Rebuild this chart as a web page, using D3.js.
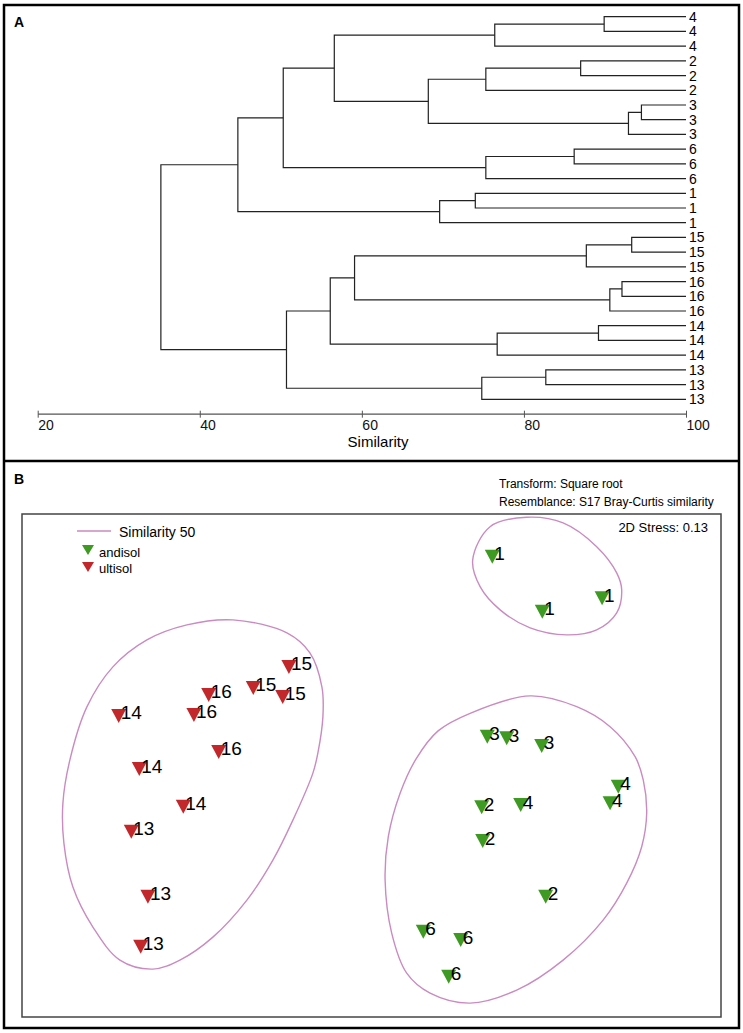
<!DOCTYPE html>
<html>
<head>
<meta charset="utf-8">
<script src="https://cdn.jsdelivr.net/npm/d3@7"></script>
<style>
  html, body { margin: 0; padding: 0; background: #fff; }
  svg { display: block; font-family: "Liberation Sans", Arial, sans-serif; }
</style>
</head>
<body>
<script>
// dendrogram leaves, top to bottom
const leafLabels = ['4','4','4','2','2','2','3','3','3','6','6','6','1','1','1',
  '15','15','15','16','16','16','14','14','14','13','13','13']

// merges: [child a, child b, similarity]; children < 27 are leaves, >= 27 are earlier merges
const merges = [
  [0, 1, 89.9], [27, 2, 76.4],
  [3, 4, 87.0], [29, 5, 75.3],
  [6, 7, 94.5], [31, 8, 92.9],
  [30, 32, 68.2], [28, 33, 56.6],
  [9, 10, 86.2], [35, 11, 75.3],
  [34, 36, 50.3],
  [12, 13, 74.0], [38, 14, 69.6],
  [37, 39, 44.7],
  [15, 16, 93.3], [41, 17, 87.7],
  [18, 19, 92.1], [43, 20, 90.6],
  [42, 44, 59.1],
  [21, 22, 89.2], [46, 23, 76.7],
  [45, 47, 56.1],
  [24, 25, 82.7], [49, 26, 74.8],
  [48, 50, 50.7],
  [40, 51, 35.2]
]

const similarityTicks = [20, 40, 60, 80, 100]

// nMDS ordination
const andisolSites = ['1','1','1','3','3','3','4','4','4','2','2','2','6','6','6']
const andisolMds = [
  [0.604, 1.044], [0.854, 0.769], [1.153, 0.836],
  [0.579, 0.144], [0.676, 0.136], [0.851, 0.098],
  [1.234, -0.106], [1.193, -0.189], [0.746, -0.198],
  [0.551, -0.209], [0.556, -0.378], [0.871, -0.656],
  [0.259, -0.831], [0.446, -0.873], [0.386, -1.056]
]
const ultisolSites = ['15','15','15','16','16','16','14','14','14','13','13','13']
const ultisolMds = [
  [-0.413, 0.493], [-0.591, 0.388], [-0.444, 0.343],
  [-0.814, 0.353], [-0.888, 0.253], [-0.764, 0.068],
  [-1.264, 0.248], [-1.161, -0.018], [-0.941, -0.206],
  [-1.201, -0.331], [-1.118, -0.656], [-1.154, -0.906]
]

// similarity 50 contours
const contourSite1 = [
  [0.776, 1.241], [0.958, 1.213], [1.126, 1.094], [1.226, 0.963], [1.251, 0.878],
  [1.226, 0.763], [1.126, 0.678], [0.976, 0.653], [0.793, 0.688], [0.643, 0.778],
  [0.543, 0.894], [0.506, 1.028], [0.593, 1.194]
]
const contourAndisol = [
  [0.793, 0.348], [1.026, 0.294], [1.193, 0.194], [1.318, 0.044], [1.359, -0.073],
  [1.376, -0.238], [1.351, -0.406], [1.276, -0.588], [1.158, -0.773], [0.958, -0.973],
  [0.726, -1.123], [0.493, -1.188], [0.293, -1.138], [0.176, -1.038], [0.101, -0.838],
  [0.068, -0.573], [0.084, -0.356], [0.143, -0.139], [0.223, 0.033], [0.333, 0.173],
  [0.493, 0.261]
]
const contourUltisol = [
  [-0.693, 0.728], [-0.423, 0.663], [-0.308, 0.563], [-0.248, 0.393], [-0.243, 0.243],
  [-0.268, 0.063], [-0.293, -0.038], [-0.393, -0.273], [-0.493, -0.473], [-0.623, -0.673],
  [-0.793, -0.858], [-0.958, -0.973], [-1.093, -1.018], [-1.258, -0.973], [-1.393, -0.808],
  [-1.493, -0.608], [-1.538, -0.388], [-1.543, -0.188], [-1.508, 0.028], [-1.423, 0.293],
  [-1.293, 0.493], [-1.123, 0.628], [-0.923, 0.703]
]

const W = 743
const H = 1033
const GREEN = '#3e9a22'
const RED = '#c2282b'
const PINK = '#c98bc0'

const svg = d3.select('body').append('svg')
  .attr('width', W)
  .attr('height', H)

// ---------- panel A: dendrogram ----------
const x = d3.scaleLinear().domain([20, 100]).range([37.7, 686])
const y = d3.scalePoint().domain(d3.range(leafLabels.length)).range([16.7, 399.3])

const nodes = leafLabels.map((d, i) => ({ x: x(100), y: y(i) }))
const dendro = svg.append('g')
  .attr('fill', 'none')
  .attr('stroke', '#222')
  .attr('stroke-width', 1.2)

merges.forEach(([a, b, s]) => {
  const na = nodes[a]
  const nb = nodes[b]
  const node = { x: x(s), y: (na.y + nb.y) / 2 }
  dendro.append('path')
    .attr('d', `M${na.x},${na.y}H${node.x}V${nb.y}H${nb.x}`)
  nodes.push(node)
})

svg.append('g').selectAll('text')
  .data(leafLabels)
  .enter()
  .append('text')
  .attr('x', x(100) + 3)
  .attr('y', (d, i) => y(i) + 5)
  .attr('font-size', 14)
  .text(d => d)

const xAxis = d3.axisBottom(x)
  .tickValues(similarityTicks)
  .tickSize(5)
  .tickSizeOuter(0)

const axisG = svg.append('g')
  .attr('transform', 'translate(0, 413.7)')
  .call(xAxis)
axisG.select('.domain').attr('stroke', '#555').attr('stroke-width', 1.2)
axisG.selectAll('.tick line').attr('stroke', '#555').attr('y1', -3).attr('y2', 4)
axisG.selectAll('.tick text')
  .attr('text-anchor', 'start')
  .attr('font-family', 'Liberation Sans, Arial, sans-serif')
  .attr('font-size', 14)
  .attr('fill', '#111')
  .attr('y', 6)

svg.append('text')
  .attr('x', 378)
  .attr('y', 447)
  .attr('text-anchor', 'middle')
  .attr('font-size', 15)
  .text('Similarity')

// ---------- panel B: nMDS ----------
const box = { x0: 22, x1: 721, y0: 514, y1: 1017 }
const mx = d3.scaleLinear().domain([-1.7475, 1.7475]).range([box.x0, box.x1])
const my = d3.scaleLinear().domain([-1.2575, 1.2575]).range([box.y1, box.y0])

svg.append('rect')
  .attr('x', box.x0)
  .attr('y', box.y0)
  .attr('width', box.x1 - box.x0)
  .attr('height', box.y1 - box.y0)
  .attr('fill', 'none')
  .attr('stroke', '#444')
  .attr('stroke-width', 1.5)

const contourLine = d3.line()
  .x(d => mx(d[0]))
  .y(d => my(d[1]))
  .curve(d3.curveCatmullRomClosed.alpha(0.5))

svg.append('g').selectAll('path')
  .data([contourSite1, contourAndisol, contourUltisol])
  .enter()
  .append('path')
  .attr('d', contourLine)
  .attr('fill', 'none')
  .attr('stroke', PINK)
  .attr('stroke-width', 1.4)

const triangle = (w, h) => `M${-w / 2},${-h / 2}L${w / 2},${-h / 2}L0,${h / 2}Z`

const drawGroup = (sites, coords, colour) => {
  const g = svg.append('g')
  const pts = g.selectAll('g')
    .data(coords.map((c, i) => ({ site: sites[i], x: c[0], y: c[1] })))
    .enter()
    .append('g')
    .attr('transform', d => `translate(${mx(d.x)}, ${my(d.y)})`)
  pts.append('path')
    .attr('d', triangle(15, 14))
    .attr('fill', colour)
  pts.append('text')
    .attr('x', 2)
    .attr('y', 3.5)
    .attr('font-size', 19)
    .attr('fill', '#000')
    .text(d => d.site)
}
drawGroup(andisolSites, andisolMds, GREEN)
drawGroup(ultisolSites, ultisolMds, RED)

// legend
const legend = svg.append('g')
legend.append('line')
  .attr('x1', 77).attr('x2', 111)
  .attr('y1', 531).attr('y2', 531)
  .attr('stroke', PINK)
  .attr('stroke-width', 1.4)
legend.append('text')
  .attr('x', 119).attr('y', 537)
  .attr('font-size', 14)
  .text('Similarity 50')
legend.append('path')
  .attr('d', triangle(12, 10))
  .attr('transform', 'translate(88, 550)')
  .attr('fill', GREEN)
legend.append('text')
  .attr('x', 99).attr('y', 556.7)
  .attr('font-size', 13)
  .text('andisol')
legend.append('path')
  .attr('d', triangle(12, 10))
  .attr('transform', 'translate(88, 567)')
  .attr('fill', RED)
legend.append('text')
  .attr('x', 99).attr('y', 573.3)
  .attr('font-size', 13)
  .text('ultisol')

svg.append('text')
  .attr('x', 499).attr('y', 488)
  .attr('font-size', 12)
  .text('Transform: Square root')
svg.append('text')
  .attr('x', 499).attr('y', 506)
  .attr('font-size', 12)
  .text('Resemblance: S17 Bray-Curtis similarity')
svg.append('text')
  .attr('x', 708).attr('y', 532)
  .attr('text-anchor', 'end')
  .attr('font-size', 13)
  .text('2D Stress: 0.13')

// ---------- frame ----------
svg.append('rect')
  .attr('x', 4).attr('y', 5)
  .attr('width', 735).attr('height', 1023)
  .attr('fill', 'none')
  .attr('stroke', '#000')
  .attr('stroke-width', 2.5)
svg.append('line')
  .attr('x1', 4).attr('x2', 739)
  .attr('y1', 461).attr('y2', 461)
  .attr('stroke', '#000')
  .attr('stroke-width', 2.5)

svg.append('text')
  .attr('x', 14).attr('y', 26.7)
  .attr('font-size', 14).attr('font-weight', 'bold')
  .text('A')
svg.append('text')
  .attr('x', 14).attr('y', 484)
  .attr('font-size', 14).attr('font-weight', 'bold')
  .text('B')
</script>
</body>
</html>
